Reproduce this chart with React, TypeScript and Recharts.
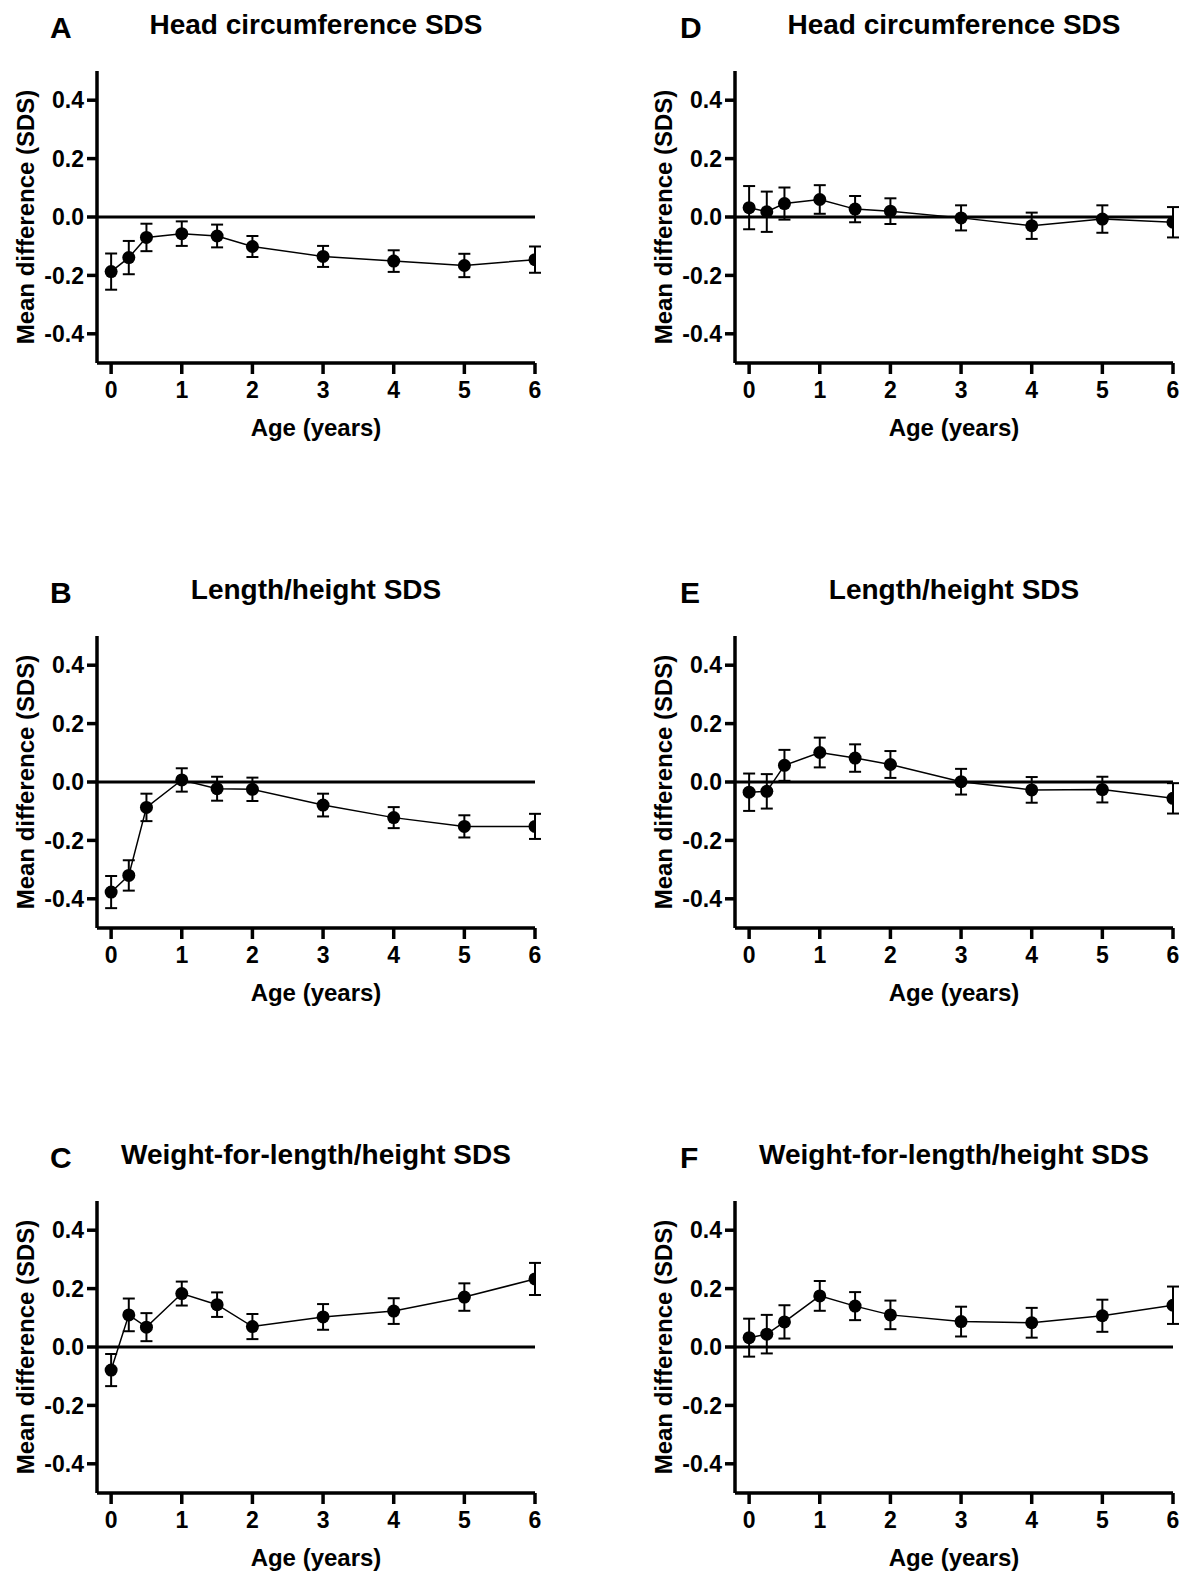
import { LineChart, Line, XAxis, YAxis, ReferenceLine, ErrorBar } from 'recharts';

const FONT = '"Liberation Sans", Arial, Helvetica, sans-serif';

// Age at measurement (years)
const AGES = [0, 0.25, 0.5, 1, 1.5, 2, 3, 4, 5, 6];
const X_TICKS = [0, 1, 2, 3, 4, 5, 6];
const Y_TICKS = [-0.4, -0.2, 0, 0.2, 0.4];

// Panel A / D: head circumference SDS (mean difference, half-width of error bar)
const HEAD_A = [-0.187, -0.139, -0.07, -0.057, -0.065, -0.101, -0.135, -0.151, -0.166, -0.146];
const HEAD_A_ERR = [0.062, 0.057, 0.047, 0.042, 0.039, 0.036, 0.036, 0.037, 0.04, 0.045];
const HEAD_D = [0.032, 0.018, 0.046, 0.06, 0.027, 0.02, -0.003, -0.03, -0.007, -0.018];
const HEAD_D_ERR = [0.074, 0.069, 0.055, 0.049, 0.045, 0.044, 0.043, 0.045, 0.047, 0.052];

// Panel B / E: length/height SDS
const LENGTH_B = [-0.377, -0.32, -0.087, 0.007, -0.023, -0.025, -0.079, -0.122, -0.152, -0.152];
const LENGTH_B_ERR = [0.055, 0.052, 0.047, 0.04, 0.041, 0.04, 0.039, 0.036, 0.038, 0.043];
const LENGTH_E = [-0.035, -0.032, 0.057, 0.101, 0.082, 0.06, 0.001, -0.027, -0.026, -0.056];
const LENGTH_E_ERR = [0.064, 0.059, 0.053, 0.051, 0.047, 0.046, 0.044, 0.044, 0.044, 0.052];

// Panel C / F: weight-for-length/height SDS
const WEIGHT_C = [-0.079, 0.11, 0.068, 0.183, 0.145, 0.07, 0.103, 0.123, 0.171, 0.233];
const WEIGHT_C_ERR = [0.055, 0.056, 0.048, 0.041, 0.042, 0.043, 0.044, 0.044, 0.047, 0.055];
const WEIGHT_F = [0.032, 0.044, 0.086, 0.175, 0.14, 0.11, 0.087, 0.083, 0.107, 0.143];
const WEIGHT_F_ERR = [0.065, 0.066, 0.057, 0.051, 0.048, 0.049, 0.051, 0.051, 0.055, 0.064];

const PANELS = [
  { letter: 'A', title: 'Head circumference SDS', mean: HEAD_A, err: HEAD_A_ERR, col: 0, row: 0 },
  { letter: 'B', title: 'Length/height SDS', mean: LENGTH_B, err: LENGTH_B_ERR, col: 0, row: 1 },
  { letter: 'C', title: 'Weight-for-length/height SDS', mean: WEIGHT_C, err: WEIGHT_C_ERR, col: 0, row: 2 },
  { letter: 'D', title: 'Head circumference SDS', mean: HEAD_D, err: HEAD_D_ERR, col: 1, row: 0 },
  { letter: 'E', title: 'Length/height SDS', mean: LENGTH_E, err: LENGTH_E_ERR, col: 1, row: 1 },
  { letter: 'F', title: 'Weight-for-length/height SDS', mean: WEIGHT_F, err: WEIGHT_F_ERR, col: 1, row: 2 },
];

const COL_X = [0, 638];
const LETTER_X = [50, 680];
const ROW_Y = [0, 565, 1130];

const tickStyle = { fill: '#000', fontSize: 23, fontWeight: 700, fontFamily: FONT };
const axisLine = { stroke: '#000', strokeWidth: 3.5 };

interface PanelProps {
  letter: string;
  title: string;
  mean: number[];
  err: number[];
  col: number;
  row: number;
}

const Panel = ({ letter, title, mean, err, col, row }: PanelProps) => {
  const data = AGES.map((age, i) => ({ age, mean: mean[i], err: err[i] }));
  const left = COL_X[col];
  const top = ROW_Y[row];

  return (
    <>
      <div
        style={{
          position: 'absolute',
          left: LETTER_X[col],
          top: top + 11,
          fontFamily: FONT,
          fontWeight: 700,
          fontSize: 30,
          lineHeight: '34px',
        }}
      >
        {letter}
      </div>
      <div
        style={{
          position: 'absolute',
          left: left + 97,
          width: 438,
          top: top + 9,
          textAlign: 'center',
          fontFamily: FONT,
          fontWeight: 700,
          fontSize: 28,
          lineHeight: '32px',
          whiteSpace: 'nowrap',
        }}
      >
        {title}
      </div>
      <div style={{ position: 'absolute', left, top }}>
        <LineChart width={560} height={460} data={data} margin={{ top: 71, right: 25, bottom: 0, left: 0 }}>
          <XAxis
            dataKey="age"
            type="number"
            domain={[-0.2, 6]}
            ticks={X_TICKS}
            allowDataOverflow
            height={97}
            axisLine={axisLine}
            tickLine={axisLine}
            tickSize={11}
            tickMargin={8}
            tick={tickStyle}
            label={{
              value: 'Age (years)',
              position: 'insideBottom',
              offset: 24,
              style: { fill: '#000', fontSize: 24, fontWeight: 700, fontFamily: FONT },
            }}
          />
          <YAxis
            type="number"
            domain={[-0.5, 0.5]}
            ticks={Y_TICKS}
            allowDataOverflow
            width={97}
            axisLine={axisLine}
            tickLine={axisLine}
            tickSize={10}
            tickMargin={3}
            tick={tickStyle}
            tickFormatter={(v: number) => v.toFixed(1)}
            label={{
              value: 'Mean difference (SDS)',
              angle: -90,
              position: 'insideLeft',
              offset: 25,
              style: { textAnchor: 'middle', fill: '#000', fontSize: 24, fontWeight: 700, fontFamily: FONT },
            }}
          />
          <ReferenceLine
            segment={[
              { x: -0.2, y: 0 },
              { x: 6, y: 0 },
            ]}
            stroke="#000"
            strokeWidth={3}
          />
          <Line
            dataKey="mean"
            stroke="#000"
            strokeWidth={1.5}
            dot={{ r: 6.5, fill: '#000', stroke: 'none' }}
            activeDot={false}
            isAnimationActive={false}
          >
            <ErrorBar dataKey="err" width={6} stroke="#000" strokeWidth={2} direction="y" />
          </Line>
        </LineChart>
      </div>
    </>
  );
};

export default function App() {
  return (
    <div
      style={{
        position: 'absolute',
        left: 0,
        top: 0,
        width: 1204,
        height: 1596,
        background: '#fff',
        overflow: 'hidden',
      }}
    >
      {PANELS.map((p) => (
        <Panel key={p.letter} {...p} />
      ))}
    </div>
  );
}
